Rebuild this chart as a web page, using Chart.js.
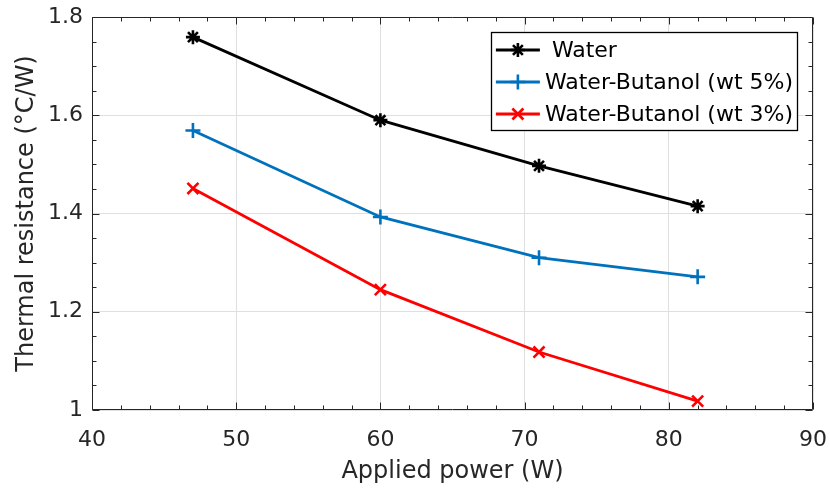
<!DOCTYPE html>
<html>
<head>
<meta charset="utf-8">
<script src="https://cdn.jsdelivr.net/npm/chart.js@4/dist/chart.umd.min.js"></script>
<style>
html,body{margin:0;padding:0;background:#fff;}
#wrap{width:830px;height:492px;position:relative;}
</style>
</head>
<body>
<div id="wrap"><canvas id="c" width="830" height="492"></canvas></div>
<script>
// ---- data ----
const power = [47, 60, 71, 82];
const water = [1.759, 1.590, 1.497, 1.415];
const butanol5 = [1.569, 1.393, 1.310, 1.271];
const butanol3 = [1.451, 1.245, 1.118, 1.018];
const seriesLabels = [' Water', 'Water-Butanol (wt 5%)', 'Water-Butanol (wt 3%)'];
const xTicksMajor = [40, 50, 60, 70, 80, 90];
const yTicksMajor = [1, 1.2, 1.4, 1.6, 1.8];
const xLabel = 'Applied power (W)';
const yLabel = 'Thermal resistance (°C/W)';

const FONT = "'DejaVu Sans', sans-serif";
const AX = '#262626';
const GRID = '#dfdfdf';

function pts(ys){ return power.map((x,i)=>({x:x, y:ys[i]})); }

const axesPlugin = {
  id: 'matlabAxes',
  beforeDatasetsDraw(chart){
    const {ctx, chartArea:a, scales:{x, y}} = chart;
    const L = Math.round(a.left)+0.5, R = Math.round(a.right)-0.5;
    const T = Math.round(a.top)+0.5, B = Math.round(a.bottom)-0.5;
    ctx.save();
    ctx.strokeStyle = AX; ctx.lineWidth = 1;
    ctx.beginPath();
    ctx.rect(L, T, R-L, B-T);
    for(let v=x.min; v<=x.max+1e-9; v+=2){
      const px = Math.round(x.getPixelForValue(v))+0.5;
      const len = (Math.abs(v%10)<1e-9) ? 7 : 4;
      ctx.moveTo(px, B); ctx.lineTo(px, B-len);
      ctx.moveTo(px, T); ctx.lineTo(px, T+len);
    }
    for(let k=0; k<=16; k++){
      const v = y.min + k*0.05;
      const py = Math.round(y.getPixelForValue(v))+0.5;
      const len = (k%4===0) ? 7 : 4;
      ctx.moveTo(L, py); ctx.lineTo(L+len, py);
      ctx.moveTo(R, py); ctx.lineTo(R-len, py);
    }
    ctx.stroke();
    ctx.restore();
  },
  afterDraw(chart){
    const {ctx, chartArea:a} = chart;
    const ds = chart.data.datasets;
    ctx.save();
    ctx.font = '22px ' + FONT;
    let maxW = 0;
    ds.forEach(d=>{ maxW = Math.max(maxW, ctx.measureText(d.label).width); });
    const sample = 44, padL = 5, gap = 5, padR = 4, rowH = 32;
    const w = padL + sample + gap + maxW + padR;
    const right = a.right - 16, top = a.top + 15;
    const left = right - w;
    const h = rowH*ds.length + 2;
    ctx.fillStyle = '#fff';
    ctx.fillRect(left, top, w, h);
    ctx.strokeStyle = '#000'; ctx.lineWidth = 1.3;
    ctx.strokeRect(Math.round(left)+0.5, Math.round(top)+0.5, Math.round(w), Math.round(h));
    ds.forEach((d,i)=>{
      const cy = top + 18 + i*rowH;
      const x0 = left + padL;
      ctx.strokeStyle = d.borderColor; ctx.lineWidth = d.borderWidth;
      ctx.beginPath(); ctx.moveTo(x0, cy); ctx.lineTo(x0+sample, cy); ctx.stroke();
      ctx.lineWidth = d.pointBorderWidth;
      ctx.strokeStyle = d.borderColor; ctx.fillStyle = d.borderColor;
      Chart.helpers.drawPoint(ctx, {pointStyle: d.pointStyle, radius: d.pointRadius, borderWidth: d.pointBorderWidth, rotation: 0}, x0+sample/2, cy);
      ctx.fillStyle = '#000';
      ctx.textBaseline = 'middle'; ctx.textAlign = 'left';
      ctx.fillText(d.label, x0+sample+gap, cy+1);
    });
    ctx.restore();
  }
};

function ds(label, ys, color, style, r){
  return {label, data: pts(ys), borderColor: color, backgroundColor: color,
    borderWidth: 2.8, pointStyle: style, pointRadius: r, pointBorderWidth: 2.6,
    pointBackgroundColor: color, pointBorderColor: color, tension: 0, fill: false};
}

new Chart(document.getElementById('c'), {
  type: 'line',
  data: { datasets: [
    ds(seriesLabels[0], water, '#000000', 'star', 7),
    ds(seriesLabels[1], butanol5, '#0072BD', 'cross', 7.5),
    ds(seriesLabels[2], butanol3, '#FF0000', 'crossRot', 7.8)
  ]},
  options: {
    responsive: false, animation: false, devicePixelRatio: 1,
    layout: { padding: { top: 17, right: 17, left: 0, bottom: 0 } },
    plugins: { legend: {display:false}, tooltip: {enabled:false} },
    scales: {
      x: {
        type: 'linear', min: 40, max: 90, offset: false,
        afterBuildTicks: s => { s.ticks = xTicksMajor.map(v=>({value:v})); },
        afterFit: s => { s.height = 82; s.paddingLeft = 0; s.paddingRight = 0; },
        grid: { color: GRID, lineWidth: 1, drawTicks: false },
        border: { display: false },
        ticks: { color: AX, font: { family: FONT, size: 22 }, padding: 17, autoSkip: false, maxRotation: 0,
                 callback: v => String(v) },
        title: { display: true, text: xLabel, color: AX, font: { family: FONT, size: 24 }, padding: { top: 0, bottom: 6 } }
      },
      y: {
        type: 'linear', min: 1, max: 1.8,
        afterBuildTicks: s => { s.ticks = yTicksMajor.map(v=>({value:v})); },
        afterFit: s => { s.width = 92; s.paddingTop = 0; s.paddingBottom = 0; },
        grid: { color: GRID, lineWidth: 1, drawTicks: false },
        border: { display: false },
        ticks: { color: AX, font: { family: FONT, size: 22 }, padding: 9, autoSkip: false,
                 callback: v => String(Number(Number(v).toFixed(1))) },
        title: { display: true, text: yLabel, color: AX, font: { family: FONT, size: 24 }, padding: { top: 12, bottom: 0 } }
      }
    }
  },
  plugins: [axesPlugin]
});
</script>
</body>
</html>
